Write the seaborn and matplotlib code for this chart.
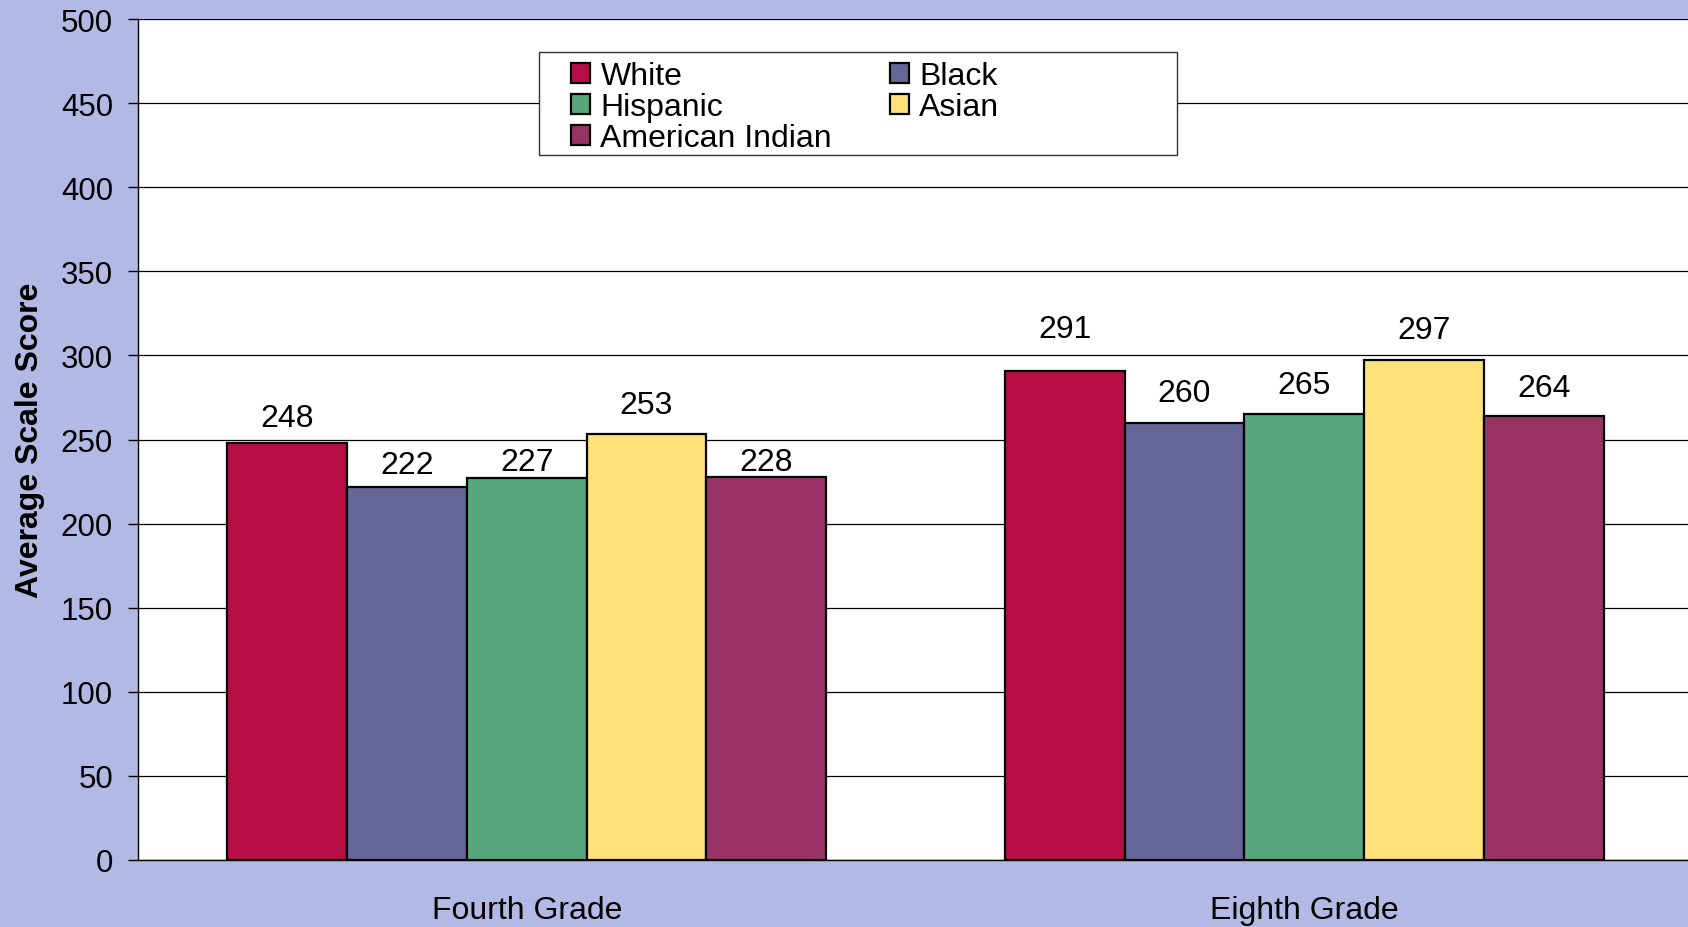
import matplotlib
matplotlib.use("Agg")
import matplotlib.pyplot as plt
from matplotlib.patches import Patch, Rectangle
import seaborn as sns
import pandas as pd

grades = ["Fourth Grade", "Eighth Grade"]
groups = ["White", "Black", "Hispanic", "Asian", "American Indian"]
fourth_scores = [248, 222, 227, 253, 228]
eighth_scores = [291, 260, 265, 297, 264]
colors = ["#B80E46", "#666699", "#58A67B", "#FFE17A", "#993366"]
yticks = [0, 50, 100, 150, 200, 250, 300, 350, 400, 450, 500]

# label padding (points) per group, [fourth, eighth] -- style only
label_pad = {
    "White": [7, 19],
    "Black": [4.5, 10.5],
    "Hispanic": [1, 10],
    "Asian": [10.5, 11],
    "American Indian": [0, 9],
}

rows = []
for g, vals in zip(grades, [fourth_scores, eighth_scores]):
    for grp, v in zip(groups, vals):
        rows.append({"grade": g, "group": grp, "score": v})
df = pd.DataFrame(rows)

sns.set_theme(style="white")
plt.rcParams["font.family"] = ["Liberation Sans", "DejaVu Sans"]

W, H = 1688, 928
bg = "#B2B9E5"
fig = plt.figure(figsize=(W / 100, H / 100), dpi=100, facecolor=bg)
ax = fig.add_axes([138 / W, 67 / H, 1.003 - 138 / W, 841 / H])
ax.set_facecolor("white")

sns.barplot(data=df, x="grade", y="score", hue="group", order=grades,
            hue_order=groups, palette=colors, edgecolor="black",
            linewidth=1.6, width=0.77, gap=0, ax=ax, legend=False,
            saturation=1, errorbar=None)

for grp, c in zip(groups, ax.containers):
    for j, bar in enumerate(c):
        ax.annotate(f"{int(round(bar.get_height()))}",
                    xy=(bar.get_x() + bar.get_width() / 2, bar.get_height()),
                    xytext=(0, label_pad[grp][j]), textcoords="offset points",
                    ha="center", va="bottom", fontsize=23, color="black")

ax.set_ylim(0, 500)
ax.set_xlim(-0.5, 1.5)
ax.set_yticks(yticks)
ax.set_yticklabels([str(t) for t in yticks], fontsize=22.5, color="black")
ax.yaxis.grid(True, color="black", linewidth=0.9)
ax.set_axisbelow(True)

ax.set_xticks([0, 1])
ax.set_xticklabels(grades, fontsize=23, color="black")
ax.set_xticks([-0.5, 0.5, 1.5], minor=True)
ax.tick_params(axis="x", which="major", length=0, pad=25.5)
ax.tick_params(axis="x", which="minor", length=7, width=1, color="black", direction="out")
ax.tick_params(axis="y", which="major", length=7, width=1, color="black", direction="out", pad=11, left=True)

for s in ["top", "right"]:
    ax.spines[s].set_visible(False)
for s in ["left", "bottom"]:
    ax.spines[s].set_color("black")
    ax.spines[s].set_linewidth(1)

ax.set_xlabel("")
ax.set_ylabel("Average Scale Score", fontsize=23, fontweight="bold", color="black", labelpad=11)

# legend box
fig.patches.append(Rectangle((539 / W, 1 - 156 / H), (1177 - 539) / W, (156 - 53) / H,
                             transform=fig.transFigure, facecolor="white",
                             edgecolor="#333333", linewidth=1, zorder=5))

handles = [Patch(facecolor=colors[i], edgecolor="black", linewidth=1.6) for i in range(5)]
order = [0, 2, 4, 1, 3]
leg = fig.legend([handles[i] for i in order], [groups[i] for i in order],
                 loc="upper left", bbox_to_anchor=(571 / W, 1 - 62 / H),
                 ncol=2, fontsize=23, frameon=False,
                 handlelength=0.6, handleheight=0.6, handletextpad=0.32,
                 labelspacing=0.03, columnspacing=1.8, borderpad=0,
                 borderaxespad=0)
leg.set_zorder(6)
for t in leg.get_texts():
    t.set_color("black")

fig.savefig("out.png", dpi=100, facecolor=bg)
